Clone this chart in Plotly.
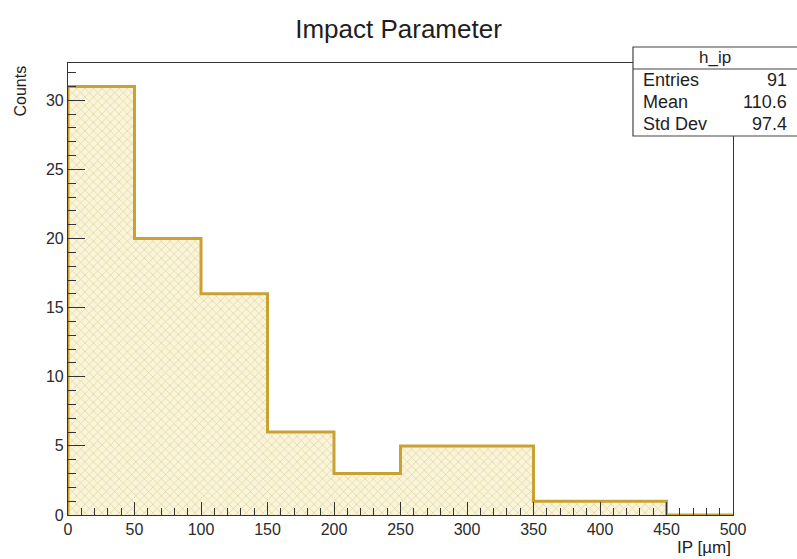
import plotly.graph_objects as go

# Histogram h_ip: impact parameter, 10 bins of 50 um from 0 to 500
bin_edges = [0, 50, 100, 150, 200, 250, 300, 350, 400, 450, 500]
counts = [31, 20, 16, 6, 3, 5, 5, 1, 1, 0]
stat_labels = ["Entries", "Mean", "Std Dev"]
stat_values = ["91", "110.6", "97.4"]
hist_name = "h_ip"

centers = [(a + b) / 2 for a, b in zip(bin_edges[:-1], bin_edges[1:])]
widths = [b - a for a, b in zip(bin_edges[:-1], bin_edges[1:])]

W, H = 797, 559
ML, MR, MT, MB = 68, 64, 63, 44
PW, PH = W - ML - MR, H - MT - MB
FONT = "Liberation Sans, Arial, Helvetica, sans-serif"
TXT = "#1e1e1e"
LINE_COL = "#c9a233"

fig = go.Figure()

# hatched bin fill
fig.add_trace(go.Bar(
    x=centers, y=counts, width=widths,
    marker=dict(
        color="#f8f2d4",
        line=dict(width=0),
        pattern=dict(shape="x", size=6, solidity=0.22,
                     fgcolor="#dfd29c", bgcolor="#faf5da", fillmode="replace"),
    ),
    hoverinfo="skip", showlegend=False,
))

# step outline of the histogram
step_x = [bin_edges[0]]
step_y = [0]
for i, c in enumerate(counts):
    step_x += [bin_edges[i], bin_edges[i + 1]]
    step_y += [c, c]
step_x.append(bin_edges[-1])
step_y.append(0)
fig.add_trace(go.Scatter(
    x=step_x, y=step_y, mode="lines",
    line=dict(color=LINE_COL, width=3),
    hoverinfo="skip", showlegend=False, cliponaxis=True,
))

def px_to_paper_x(p):
    return (p - ML) / PW

def px_to_paper_y(p):
    return (H - MB - p) / PH

# statistics box
bx0, bx1 = px_to_paper_x(633), px_to_paper_x(800)
by0, by1 = px_to_paper_y(136), px_to_paper_y(47)
row_sep = px_to_paper_y(69)
shapes = [
    dict(type="rect", xref="paper", yref="paper", x0=bx0, x1=bx1, y0=by0, y1=by1,
         line=dict(color="#444444", width=1.2), fillcolor="white", layer="above"),
    dict(type="line", xref="paper", yref="paper", x0=bx0, x1=bx1, y0=row_sep, y1=row_sep,
         line=dict(color="#444444", width=1.2), layer="above"),
]
annotations = [
    dict(text=hist_name, xref="paper", yref="paper",
         x=px_to_paper_x(715), y=px_to_paper_y(57), xanchor="center", yanchor="middle",
         showarrow=False, font=dict(family=FONT, size=17, color=TXT)),
]
row_y = [80, 102, 124]
for lab, val, ry in zip(stat_labels, stat_values, row_y):
    annotations.append(dict(text=lab, xref="paper", yref="paper",
                            x=px_to_paper_x(641), y=px_to_paper_y(ry),
                            xanchor="left", yanchor="middle", showarrow=False,
                            font=dict(family=FONT, size=18, color=TXT)))
    annotations.append(dict(text=val, xref="paper", yref="paper",
                            x=px_to_paper_x(789), y=px_to_paper_y(ry),
                            xanchor="right", yanchor="middle", showarrow=False,
                            font=dict(family=FONT, size=18, color=TXT)))

# axis titles placed at the axis ends
annotations.append(dict(text="IP [µm]", xref="paper", yref="paper",
                        x=1.0, y=px_to_paper_y(547), xanchor="right", yanchor="middle",
                        showarrow=False, font=dict(family=FONT, size=17, color=TXT)))
annotations.append(dict(text="Counts", xref="paper", yref="paper",
                        x=px_to_paper_x(20), y=px_to_paper_y(64), xanchor="center", yanchor="top",
                        textangle=-90, showarrow=False,
                        font=dict(family=FONT, size=16, color=TXT)))

axis_common = dict(
    showgrid=False, zeroline=False, showline=True, linecolor="#333333", linewidth=1.2,
    mirror=True, ticks="inside", tickcolor="#333333", tickwidth=1.2,
    tickfont=dict(family=FONT, size=16, color="#2a2a2a"),
)

fig.update_layout(
    width=W, height=H,
    margin=dict(l=ML, r=MR, t=MT, b=MB),
    paper_bgcolor="white", plot_bgcolor="white",
    bargap=0,
    title=dict(text="Impact Parameter", x=0.5, xanchor="center", y=1 - 29 / H,
               yanchor="middle", font=dict(family=FONT, size=26, color=TXT)),
    xaxis=dict(range=[0, 500], dtick=50, tick0=0, ticklen=13,
               minor=dict(dtick=10, ticks="inside", ticklen=7, tickcolor="#333333"),
               **axis_common),
    yaxis=dict(range=[0, 32.7], dtick=5, tick0=0, ticklen=17,
               minor=dict(dtick=1, ticks="inside", ticklen=8, tickcolor="#333333"),
               **axis_common),
    shapes=shapes,
    annotations=annotations,
)

fig.write_html("out.html")
